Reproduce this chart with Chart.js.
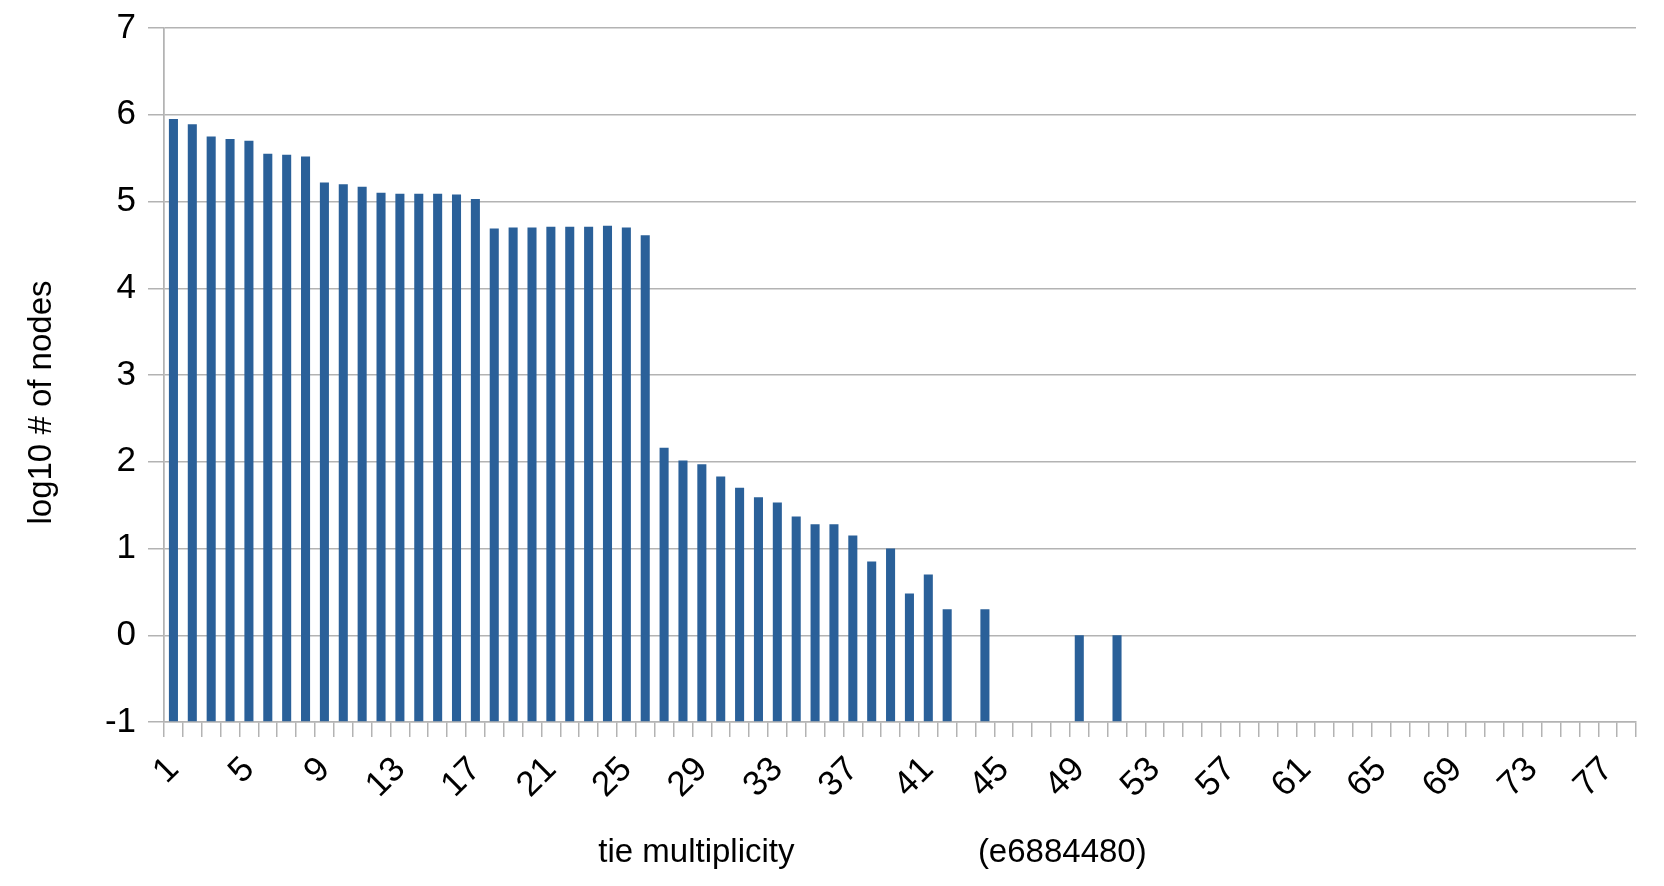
<!DOCTYPE html>
<html>
<head>
<meta charset="utf-8">
<script src="https://cdn.jsdelivr.net/npm/chart.js@4"></script>
<style>
  html, body { margin: 0; padding: 0; background: #fff; }
  #wrap { width: 1664px; height: 886px; }
</style>
</head>
<body>
<div id="wrap"><canvas id="chart"></canvas></div>
<script>
const categories = [
  '1','2','3','4','5','6','7','8','9','10','11','12','13','14','15','16','17','18','19','20',
  '21','22','23','24','25','26','27','28','29','30','31','32','33','34','35','36','37','38','39','40',
  '41','42','43','44','45','46','47','48','49','50','51','52','53','54','55','56','57','58','59','60',
  '61','62','63','64','65','66','67','68','69','70','71','72','73','74','75','76','77','78'
];

// log10 of node counts per tie multiplicity (empty = no nodes)
const logNodes = [
  5.95, 5.89, 5.75, 5.72, 5.70, 5.55, 5.54, 5.52, 5.22, 5.20,
  5.17, 5.10, 5.09, 5.09, 5.09, 5.08, 5.03, 4.69, 4.70, 4.70,
  4.71, 4.71, 4.71, 4.72, 4.70, 4.61, 2.16, 2.015, 1.97, 1.83,
  1.70, 1.59, 1.53, 1.37, 1.28, 1.28, 1.15, 0.85, 1.00, 0.48,
  0.70, 0.30, null, 0.30, null, null, null, null, 0, null,
  0
];

const yTicks = { min: -1, max: 7, step: 1 };

const gridGray = '#b3b3b3';
const family = '"Liberation Sans", Arial, sans-serif';
const titleFont = { family: family, size: 33 };
// small lineHeight keeps label overflow from pushing the plot area in
const yTickFont = { family: family, size: 35, lineHeight: 0.6 };
const xTickFont = { family: family, size: 35, lineHeight: 0.8 };

new Chart(document.getElementById('chart'), {
  type: 'bar',
  data: {
    labels: categories,
    datasets: [{
      data: logNodes,
      base: yTicks.min,
      backgroundColor: '#2a6099',
      borderWidth: 0,
      barPercentage: 0.48,
      categoryPercentage: 1
    }]
  },
  options: {
    responsive: true,
    maintainAspectRatio: false,
    animation: false,
    layout: { padding: { top: 28, right: 28, bottom: 0, left: 0 } },
    plugins: {
      legend: { display: false },
      tooltip: { enabled: false }
    },
    scales: {
      x: {
        offset: true,
        grid: {
          drawOnChartArea: true,
          color: (c) => (c.index === 0 || c.index === categories.length) ? gridGray : 'rgba(0,0,0,0)',
          tickColor: gridGray,
          tickLength: 15,
          lineWidth: 1.5
        },
        border: { display: true, color: gridGray, width: 1.5 },
        ticks: {
          autoSkip: false,
          minRotation: 45,
          maxRotation: 45,
          padding: 17,
          color: '#000',
          font: xTickFont,
          callback: (v, i) => (i % 4 === 0 ? categories[i] : '')
        },
        title: {
          display: true,
          text: 'tie multiplicity                    (e6884480)      ',
          color: '#000',
          font: titleFont,
          padding: { top: 0, bottom: 13 }
        },
        afterFit: (scale) => { scale.height = 164; }
      },
      y: {
        min: yTicks.min,
        max: yTicks.max,
        grid: {
          color: gridGray,
          tickLength: 16,
          lineWidth: 1.5
        },
        border: { display: true, color: gridGray, width: 1.5 },
        ticks: {
          stepSize: yTicks.step,
          padding: 12,
          color: '#000',
          font: yTickFont
        },
        title: {
          display: true,
          text: 'log10 # of nodes      ',
          color: '#000',
          font: titleFont,
          padding: { top: 22, bottom: 0 }
        },
        afterFit: (scale) => { scale.width = 164; }
      }
    }
  }
});
</script>
</body>
</html>
